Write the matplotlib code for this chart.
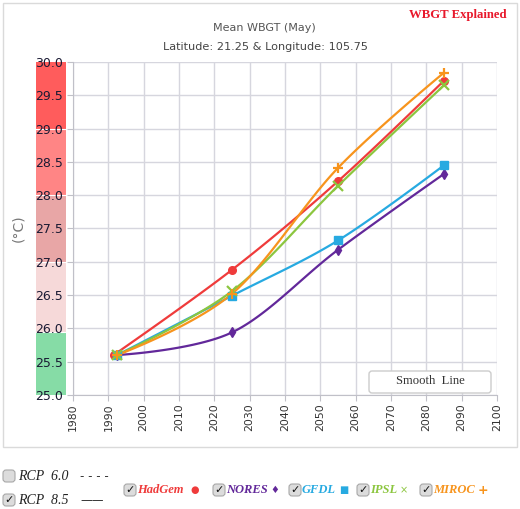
import numpy as np
import matplotlib
matplotlib.use("Agg")
import matplotlib.pyplot as plt
from matplotlib.patches import FancyBboxPatch, Rectangle

# data
models = ["HadGem", "NORES", "GFDL", "IPSL", "MIROC"]
years_hadgem = [1991.5, 2025, 2055, 2085]
years_other = [1992.5, 2025, 2055, 2085]
hadgem = [25.6, 26.88, 28.21, 29.72]
nores = [25.6, 25.94, 27.18, 28.32]
gfdl = [25.6, 26.49, 27.32, 28.45]
ipsl = [25.6, 26.56, 28.14, 29.65]
miroc = [25.6, 26.52, 28.41, 29.84]

colors = ["#ef3b3b", "#62289a", "#27aae1", "#8cc63f", "#f7941d"]
markers = ["o", "d", "s", "x", "+"]
legend_sym = ["\u25cf", "\u2666", "\u25a0", "\u00d7", "+"]

band_edges = [25.0, 25.95, 27.0, 28.0, 29.0, 30.0]
band_colors = ["#86dca6", "#f6d9d9", "#e8a6a6", "#ff8585", "#ff5c5c"]

W, H = 520, 509


def spline(xs, ys, n=40, s=2.0):
    # highcharts style spline
    d = s + 1
    N = len(xs)
    lc = [None] * N
    rc = [None] * N
    rc[0] = (xs[0], ys[0])
    lc[-1] = (xs[-1], ys[-1])
    for i in range(1, N - 1):
        lx = (s * xs[i] + xs[i - 1]) / d
        ly = (s * ys[i] + ys[i - 1]) / d
        rx = (s * xs[i] + xs[i + 1]) / d
        ry = (s * ys[i] + ys[i + 1]) / d
        corr = ((ry - ly) * (rx - xs[i])) / (rx - lx) + ys[i] - ry
        ly += corr
        ry += corr
        if ly > ys[i - 1] and ly > ys[i]:
            ly = max(ys[i - 1], ys[i]); ry = 2 * ys[i] - ly
        elif ly < ys[i - 1] and ly < ys[i]:
            ly = min(ys[i - 1], ys[i]); ry = 2 * ys[i] - ly
        if ry > ys[i + 1] and ry > ys[i]:
            ry = max(ys[i + 1], ys[i]); ly = 2 * ys[i] - ry
        elif ry < ys[i + 1] and ry < ys[i]:
            ry = min(ys[i + 1], ys[i]); ly = 2 * ys[i] - ry
        lc[i] = (lx, ly)
        rc[i] = (rx, ry)
    t = np.linspace(0, 1, n)
    px, py = [], []
    for i in range(1, N):
        p0 = (xs[i - 1], ys[i - 1]); p1 = rc[i - 1]; p2 = lc[i]; p3 = (xs[i], ys[i])
        bx = (1-t)**3*p0[0] + 3*(1-t)**2*t*p1[0] + 3*(1-t)*t**2*p2[0] + t**3*p3[0]
        by = (1-t)**3*p0[1] + 3*(1-t)**2*t*p1[1] + 3*(1-t)*t**2*p2[1] + t**3*p3[1]
        px.extend(bx); py.extend(by)
    return px, py


fig = plt.figure(figsize=(W / 100, H / 100), dpi=100)
fig.patch.set_facecolor("white")

def fx(p):
    return p / W

def fy(p):
    return 1 - p / H

# outer chart border
fig.patches.append(Rectangle((fx(3), fy(447)), fx(514), 444 / H, transform=fig.transFigure,
                             fill=False, ec="#dadada", lw=1))

left, right, top, bottom = 73, 497, 62, 395

# colour band behind y labels
band = fig.add_axes([fx(36), fy(bottom), fx(30), (bottom - top) / H])
for i in range(len(band_colors)):
    band.axhspan(band_edges[i], band_edges[i + 1], color=band_colors[i], lw=0)
    if i > 0:
        band.axhline(band_edges[i], color="white", lw=0.8)
band.set_ylim(25, 30)
band.set_xlim(0, 1)
band.axis("off")

ax = fig.add_axes([fx(left), fy(bottom), fx(right - left), (bottom - top) / H])
ax.set_facecolor("none")
ax.set_xlim(1980, 2100)
ax.set_ylim(25, 30)
ax.set_xticks(np.arange(1980, 2101, 10))
ax.set_yticks(np.arange(25, 30.01, 0.5))
ax.set_yticklabels(["%.1f" % v for v in np.arange(25, 30.01, 0.5)])
ax.grid(True, color="#d6d6de", lw=1)
ax.set_axisbelow(True)
for sp in ax.spines.values():
    sp.set_visible(False)
ax.spines["left"].set_visible(True)
ax.spines["left"].set_color("#c0c0c8")
ax.spines["bottom"].set_visible(True)
ax.spines["bottom"].set_color("#c0c0c8")
ax.tick_params(axis="x", labelrotation=90, labelsize=7.8, colors="#c0c0c8",
               labelcolor="#333333", length=4, pad=2)
ax.tick_params(axis="y", labelsize=9, colors="#c0c0c8", labelcolor="#1a1a33",
               length=4, pad=3)

series = [hadgem, nores, gfdl, ipsl, miroc]
for k, vals in enumerate(series):
    xs = years_hadgem if k == 0 else years_other
    sx, sy = spline(xs, vals)
    ax.plot(sx, sy, color=colors[k], lw=1.6, zorder=3)
    ms = 7 if markers[k] in ("x", "+") else 5.5
    ax.plot(xs, vals, ls="none", marker=markers[k], color=colors[k], ms=ms,
            mew=1.6 if markers[k] in ("x", "+") else 1, zorder=4)

# smooth line box
ax.add_patch(FancyBboxPatch((fx(369), fy(393)), fx(122), 22 / H, transform=fig.transFigure,
                            boxstyle="round,pad=0,rounding_size=0.006", fc="white",
                            ec="#cccccc", lw=1, zorder=5))
fig.text(fx(430), fy(381), "Smooth  Line", ha="center", va="center",
         family="Liberation Serif", fontsize=9.1, color="#333333", zorder=6)

# titles
fig.text(fx(264), fy(28), "Mean WBGT (May)", ha="center", va="center",
         fontsize=8.0, color="#555555")
fig.text(fx(265), fy(47), "Latitude: 21.25 & Longitude: 105.75", ha="center",
         va="center", fontsize=8.1, color="#444444")
fig.text(fx(458), fy(15), "WBGT Explained", ha="center", va="center",
         family="Liberation Serif", fontweight="bold", fontsize=9.2, color="#e8192c")
fig.text(fx(18), fy(228), "(\u00b0C)", ha="center", va="center", rotation=90,
         fontsize=10, color="#777777")


def checkbox(x, y, checked):
    fig.patches.append(FancyBboxPatch((fx(x), fy(y + 6)), fx(12), 12 / H,
                                      transform=fig.transFigure,
                                      boxstyle="round,pad=0,rounding_size=0.006",
                                      fc="#dcdcdc", ec="#a8a8a8", lw=0.8))
    if checked:
        fig.text(fx(x + 6), fy(y), "\u2713", ha="center", va="center",
                 fontsize=8, fontweight="bold", color="#111111")


checkbox(3, 476, False)
fig.text(fx(18), fy(476), "RCP  6.0", ha="left", va="center", family="Liberation Serif",
         style="italic", fontsize=10, color="#222222")
fig.text(fx(80), fy(476), "- - - -", ha="left", va="center", fontsize=8.5, color="#333333")
checkbox(3, 500, True)
fig.text(fx(18), fy(500), "RCP  8.5", ha="left", va="center", family="Liberation Serif",
         style="italic", fontsize=10, color="#222222")
fig.text(fx(80), fy(501), "\u2014\u2014", ha="left", va="center", fontsize=8.5,
         color="#333333")

legend_x = [124, 213, 289, 357, 420]
for k, name in enumerate(models):
    x0 = legend_x[k]
    checkbox(x0, 490, True)
    t = fig.text(fx(x0 + 13), fy(490), name, ha="left", va="center",
                 family="Liberation Serif", style="italic", fontweight="bold",
                 fontsize=9, color=colors[k])
    fig.canvas.draw()
    bb = t.get_window_extent()
    gap = 7 if k == 0 else 3
    fig.text((bb.x1 + gap) / W, fy(490), legend_sym[k], ha="left", va="center",
             fontsize=7 if k != 4 else 9, color=colors[k],
             fontweight="bold" if k == 4 else "normal")

fig.savefig("out.png", dpi=100)
